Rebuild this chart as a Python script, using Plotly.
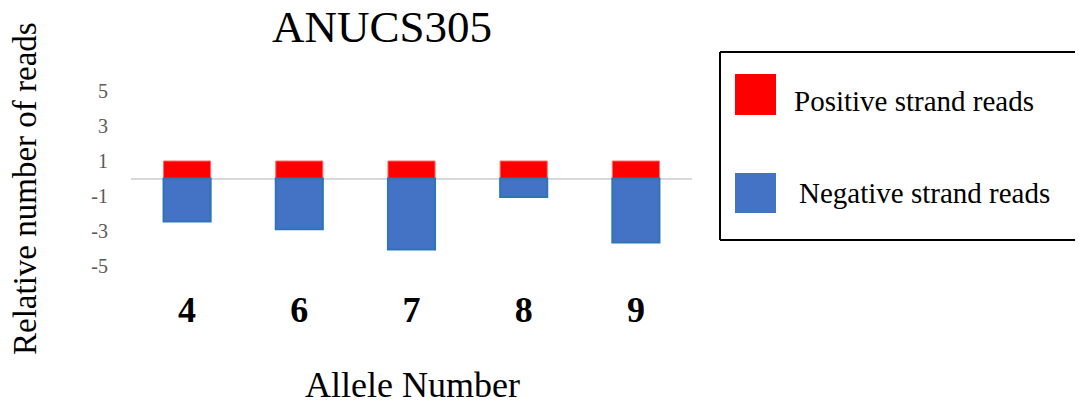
import plotly.graph_objects as go

alleles = ["4", "6", "7", "8", "9"]
positive_reads = [1, 1, 1, 1, 1]
negative_reads = [-2.45, -2.9, -4.05, -1.05, -3.65]
y_ticks = [5, 3, 1, -1, -3, -5]

# the page body has an 8px margin, so the figure is drawn 8px in from the window corner
OFF = 8
W, H = 1083 - OFF, 402 - OFF
L, R, T, B = 131 - OFF, 692 - OFF, 91 - OFF, 266 - OFF
FONT = "Times New Roman, Liberation Serif, serif"


def px(x):
    return (x - OFF - L) / (R - L)


def py(y):
    return (B - (y - OFF)) / (B - T)


fig = go.Figure()
fig.add_trace(go.Bar(
    x=alleles, y=positive_reads, name="Positive strand reads",
    marker=dict(color="#FF0000", line=dict(color="#FF6b6b", width=1)),
    showlegend=False,
))
fig.add_trace(go.Bar(
    x=alleles, y=negative_reads, name="Negative strand reads",
    marker=dict(color="#4472C4", line=dict(color="#2E75B6", width=2)),
    showlegend=False,
))

box_line = dict(color="black", width=2)
BOX_R = 1083
shapes = [
    dict(type="line", xref="paper", yref="paper",
         x0=px(720), x1=px(BOX_R), y0=py(52), y1=py(52), line=box_line),
    dict(type="line", xref="paper", yref="paper",
         x0=px(720), x1=px(BOX_R), y0=py(240), y1=py(240), line=box_line),
    dict(type="line", xref="paper", yref="paper",
         x0=px(720), x1=px(720), y0=py(52), y1=py(240), line=box_line),
    dict(type="rect", xref="paper", yref="paper",
         x0=px(735), x1=px(776), y0=py(115), y1=py(74),
         line=dict(width=0), fillcolor="#FF0000"),
    dict(type="rect", xref="paper", yref="paper",
         x0=px(735), x1=px(776), y0=py(213), y1=py(173),
         line=dict(width=0), fillcolor="#4472C4"),
]

annotations = [
    dict(text="ANUCS305", x=px(382), y=py(27), xref="paper", yref="paper",
         xanchor="center", yanchor="middle", showarrow=False,
         font=dict(family=FONT, size=45, color="black")),
    dict(text="Allele Number", x=px(412), y=py(385), xref="paper", yref="paper",
         xanchor="center", yanchor="middle", showarrow=False,
         font=dict(family=FONT, size=36, color="black")),
    dict(text="Relative number of reads", x=px(25), y=py(189), xref="paper", yref="paper",
         xanchor="center", yanchor="middle", showarrow=False, textangle=-90,
         font=dict(family=FONT, size=33, color="black")),
    dict(text="Positive strand reads", x=px(792), y=py(101), xref="paper", yref="paper",
         xanchor="left", yanchor="middle", showarrow=False,
         font=dict(family=FONT, size=29, color="black")),
    dict(text="Negative strand reads", x=px(797), y=py(193), xref="paper", yref="paper",
         xanchor="left", yanchor="middle", showarrow=False,
         font=dict(family=FONT, size=29, color="black")),
]

fig.update_layout(
    width=W, height=H,
    margin=dict(l=L, r=W - R, t=T, b=H - B, pad=0),
    barmode="relative", bargap=0.58,
    plot_bgcolor="white", paper_bgcolor="white",
    shapes=shapes, annotations=annotations,
    xaxis=dict(
        type="category", range=[-0.5, 4.5], showgrid=False, showline=False,
        ticks="", ticklabelstandoff=19,
        tickfont=dict(family=FONT, size=36, color="black", weight="bold"),
    ),
    yaxis=dict(
        range=[-5, 5], tickvals=y_ticks, ticktext=[str(v) for v in y_ticks],
        showgrid=False, showline=False, ticks="",
        zeroline=True, zerolinecolor="#D9D9D9", zerolinewidth=2,
        ticklabelstandoff=22,
        tickfont=dict(family=FONT, size=20, color="#595959"),
    ),
)

fig.write_html("out.html")
